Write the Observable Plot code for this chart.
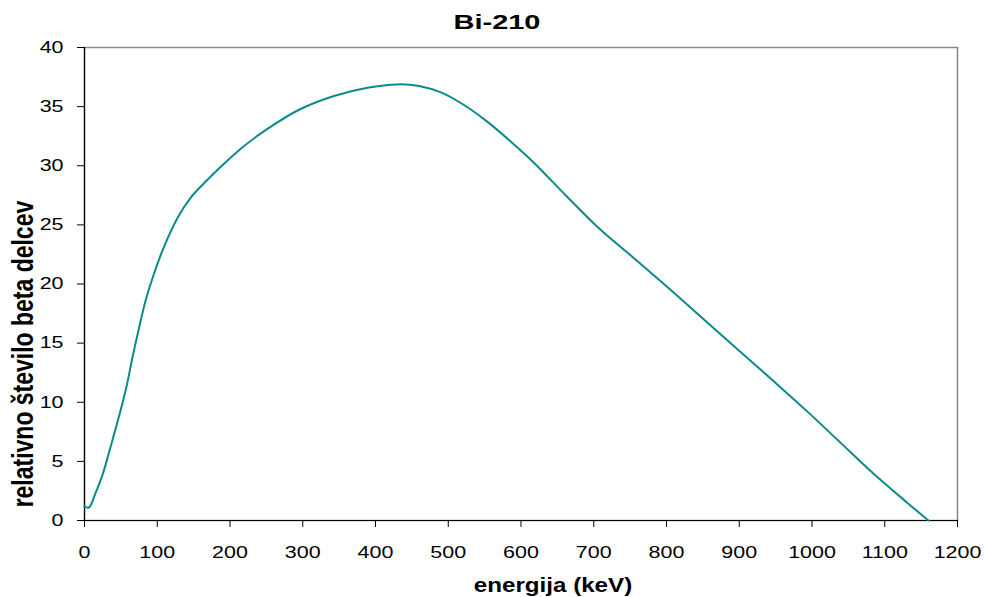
<!DOCTYPE html>
<html><head><meta charset="utf-8">
<script src="https://cdn.jsdelivr.net/npm/d3@7"></script>
<script src="https://cdn.jsdelivr.net/npm/@observablehq/plot@0.6"></script>
<style>
body{margin:0;background:#fff;font-family:"Liberation Sans",Arial,sans-serif;}
#title{height:40px;width:984px;position:relative;}
#title span{position:absolute;left:497px;top:10.5px;line-height:21px;font-size:21px;font-weight:bold;white-space:nowrap;transform:translateX(-50%) scaleX(1.38);color:#000;}
#chart{width:984px;height:557px;}
</style></head><body>
<div id="title"><span id="tt"></span></div>
<div id="chart"></div>
<script>
const titleText = "Bi-210";
const xLabel = "energija (keV)";
const yLabel = "relativno število beta delcev";
const energy = [0, 6, 15, 25, 33, 42, 50, 58, 66, 75, 84, 93, 107, 128, 146, 164, 182, 214, 251, 297, 343, 389, 430, 460, 490, 520, 550, 585, 617, 663, 709, 755, 800, 846, 901, 947, 993, 1038, 1084, 1130, 1160];
const counts = [1.2, 1.1, 2.3, 3.9, 5.6, 7.6, 9.4, 11.4, 13.8, 16.3, 18.6, 20.4, 22.8, 25.6, 27.3, 28.5, 29.6, 31.4, 33.1, 34.8, 35.9, 36.6, 36.88, 36.75, 36.2, 35.2, 33.9, 32.1, 30.3, 27.4, 24.6, 22.2, 19.8, 17.3, 14.3, 11.8, 9.25, 6.65, 4.0, 1.55, 0];
const xTicks = [0, 100, 200, 300, 400, 500, 600, 700, 800, 900, 1000, 1100, 1200];
const yTicks = [0, 5, 10, 15, 20, 25, 30, 35, 40];

document.getElementById("tt").textContent = titleText;
const data = energy.map((e, i) => ({e, n: counts[i]}));

const chart = Plot.plot({
  width: 984, height: 557,
  marginTop: 7, marginLeft: 84, marginRight: 27, marginBottom: 77,
  style: {fontFamily: "'Liberation Sans', Arial, sans-serif", fontSize: "16.5px", color: "#000", background: "#fff", overflow: "visible"},
  x: {domain: [0, 1200], label: null},
  y: {domain: [0, 40], label: null},
  marks: [
    Plot.frame({stroke: "#878787", strokeWidth: 1.5}),
    Plot.axisX({ticks: xTicks, tickSize: 7, tickPadding: 19, label: null, tickFormat: d => String(d), stroke: "#000"}),
    Plot.axisY({ticks: yTicks, tickSize: 7, tickPadding: 14, label: null, tickFormat: d => String(d), stroke: "#000"}),
    Plot.ruleX([0], {stroke: "#000", strokeWidth: 1.2}),
    Plot.ruleY([0], {stroke: "#000", strokeWidth: 1.2}),
    Plot.line(data, {x: "e", y: "n", stroke: "#0b8a8a", strokeWidth: 2, curve: "catmull-rom"}),
    Plot.text([xLabel], {frameAnchor: "bottom", dx: 32, dy: 65, fontSize: 21, fontWeight: "bold", lineAnchor: "middle", fill: "#000"}),
    Plot.text([yLabel], {frameAnchor: "left", rotate: -90, fontSize: 23, fontWeight: "bold", lineAnchor: "middle", fill: "#000"})
  ]
});
document.getElementById("chart").appendChild(chart);

function stretch(sel, k) {
  chart.querySelectorAll(sel).forEach(t => {
    const L = t.getComputedTextLength();
    t.setAttribute("textLength", (L * k).toFixed(2));
    t.setAttribute("lengthAdjust", "spacingAndGlyphs");
  });
}
stretch('g[aria-label="x-axis tick label"] text', 1.3);
stretch('g[aria-label="y-axis tick label"] text', 1.3);
chart.querySelectorAll('g[aria-label="text"] text').forEach(t => {
  if (t.textContent === xLabel) {
    const L = t.getComputedTextLength();
    t.setAttribute("textLength", (L * 1.15).toFixed(2));
    t.setAttribute("lengthAdjust", "spacingAndGlyphs");
  } else if (t.textContent === yLabel) {
    const tr = t.getAttribute("transform") || "";
    t.setAttribute("transform", tr + " scale(1,1.3)");
    const b = t.getBoundingClientRect();
    const wantX = 22.5, wantY = 354;
    const ddx = wantX - (b.left + b.width / 2), ddy = wantY - (b.top + b.height / 2);
    const g = t.parentNode;
    g.setAttribute("transform", `translate(${ddx.toFixed(2)},${ddy.toFixed(2)}) ` + (g.getAttribute("transform") || ""));
  }
});
</script>
</body></html>
